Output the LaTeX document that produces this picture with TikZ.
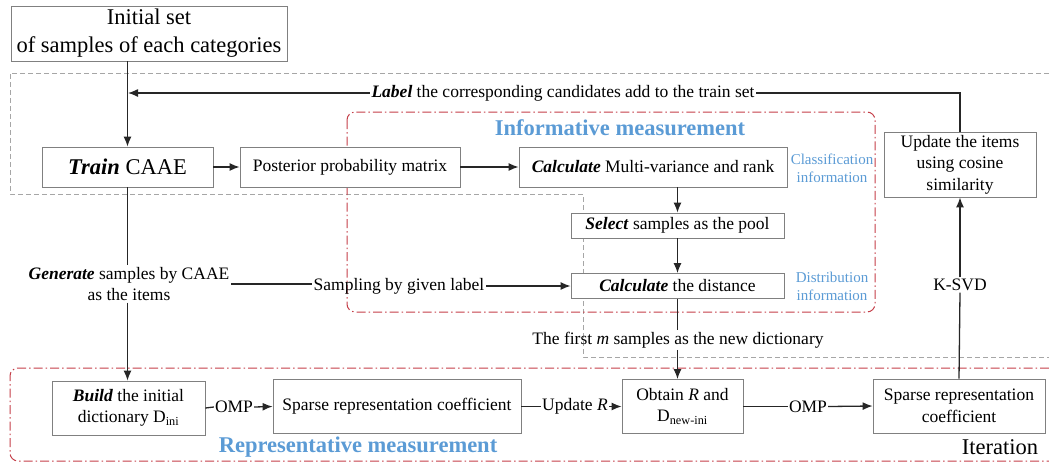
\documentclass[tikz,border=0pt]{standalone}
\usepackage{fontspec}
\setmainfont{Liberation Serif}
\usepackage{tikz}
\usetikzlibrary{arrows,arrows.meta}
\usetikzlibrary{calc}
\definecolor{infoblue}{RGB}{91,155,213}
\definecolor{measred}{RGB}{196,62,72}
\newcommand{\boxfont}{\fontsize{17.5}{21.5}\selectfont}
\newcommand{\bigfont}{\fontsize{22.5}{28}\selectfont}
\newcommand{\notefont}{\fontsize{15}{18}\selectfont}
\newcommand{\bi}[1]{\textbf{\textit{#1}}}

\begin{document}
\begin{tikzpicture}[x=1pt,y=-1pt,
  box/.style={draw=black!50,line width=0.8pt,fill=white,align=center,inner sep=0pt,font=\boxfont},
  txt/.style={align=center,inner sep=1.5pt,font=\boxfont},
  ln/.style={line width=1.3pt,black!85},
  arr/.style={ln,-{Latex[length=10pt,width=8pt]}},
  note/.style={align=center,font=\notefont,text=infoblue},
  title/.style={font=\bigfont\bfseries,text=infoblue},
  grayframe/.style={black!35,line width=0.8pt,dash pattern=on 5pt off 3pt},
  redframe/.style={measred,line width=1pt,dash pattern=on 9pt off 3pt on 1.5pt off 3pt}]%CAAE flow
\useasboundingbox (0,0) rectangle (1049,464);
% frames
\draw[grayframe] (1049,73) -- (10,73) -- (10,194) -- (583,194) -- (583,357) -- (1049,357);
\draw[redframe,rounded corners=8pt] (347,112) rectangle (875,312);
\draw[redframe,rounded corners=8pt] (1049,368) -- (10,368) -- (10,461) -- (1049,461);
\node[title] (infotitle) at (620,128) {Informative measurement};
\node[title] (reptitle) at (358,447) {Representative measurement};
\node[font=\bigfont] (iter) at (1000,447) {Iteration};
\node[note] (clsinfo) at (832,168) {Classification\\information};
\node[note] (disinfo) at (832,286) {Distribution\\information};
% boxes
\node[box,minimum width=276pt,minimum height=55pt,font=\bigfont] (init) at (149,33.5) {Initial set\\of samples of each categories};
\node[box,minimum width=171pt,minimum height=40pt,font=\bigfont] (train) at (127.5,167) {\bi{Train} CAAE};
\node[box,minimum width=220pt,minimum height=40pt] (post) at (350,167) {Posterior probability matrix};
\node[box,minimum width=268pt,minimum height=40pt] (calc) at (653,167) {\bi{Calculate} Multi-variance and rank};
\node[box,minimum width=213pt,minimum height=25pt] (select) at (677.5,225.5) {\bi{Select} samples as the pool};
\node[box,minimum width=213pt,minimum height=25pt] (dist) at (677.5,286) {\bi{Calculate} the distance};
\node[box,minimum width=152pt,minimum height=65pt] (upd) at (960,164.5) {Update the items\\using cosine\\similarity};
\node[box,minimum width=153pt,minimum height=54pt] (build) at (128.5,408) {\bi{Build} the initial\\dictionary D\textsubscript{ini}};
\node[box,minimum width=248pt,minimum height=54pt] (sp1) at (397,406.5) {Sparse representation coefficient};
\node[box,minimum width=121pt,minimum height=54pt] (obtain) at (682.5,406.5) {Obtain \textit{R} and\\D\textsubscript{new-ini}};
\node[box,minimum width=172pt,minimum height=54pt] (sp2) at (959,406) {Sparse representation\\coefficient};
% line labels
\node[txt] (lab) at (563,93) {\bi{Label} the corresponding candidates add to the train set};
\coordinate (jn) at (128,93);
\node[txt] (gen) at (129,284) {\bi{Generate} samples by CAAE\\as the items};
\node[txt] (samp) at (399,286) {Sampling by given label};
\node[txt] (firstm) at (678,340) {The first \textit{m} samples as the new dictionary};
\node[txt] (ksvd) at (960,285) {K-SVD};
\node[txt,inner sep=1pt] (omp1) at (234,407) {OMP};
\node[txt,inner sep=1pt] (updr) at (575,406.5) {Update \textit{R}};
\node[txt,inner sep=1pt] (omp2) at (808,406.5) {OMP};
% connectors
\draw[arr] (train.north |- init.south) -- (train.north);
\draw[ln] (upd.north) |- (lab.east);
\draw[arr] (lab.west) -- (jn);
\draw[arr] (train) -- (post);
\draw[arr] (post) -- (calc);
\draw[arr] (select.north |- calc.south) -- (select.north);
\draw[arr] (select) -- (dist);
\draw[ln] (train.south) -- (train.south |- gen.north);
\draw[arr] (train.south |- gen.south) -- (train.south |- build.north);
\draw[ln] (gen.east) -- (gen.east -| samp.west);
\draw[arr] (samp.east) -- (dist.west);
\draw[ln] (dist.south) -- (dist.south |- firstm.north);
\draw[arr] (dist.south |- firstm.south) -- (dist.south |- obtain.north);
\draw[ln] (build.east) -- (omp1.west);
\draw[arr] (omp1.east) -- (sp1.west);
\draw[ln] (sp1.east) -- (updr.west);
\draw[arr] (updr.east) -- (obtain.west);
\draw[ln] (obtain.east) -- (omp2.west);
\draw[arr] (omp2.east) -- (sp2.west);
\draw[ln] (sp2.north) -- (ksvd.south);
\draw[arr] (ksvd.north) -- (upd.south);
\end{tikzpicture}
\end{document}
